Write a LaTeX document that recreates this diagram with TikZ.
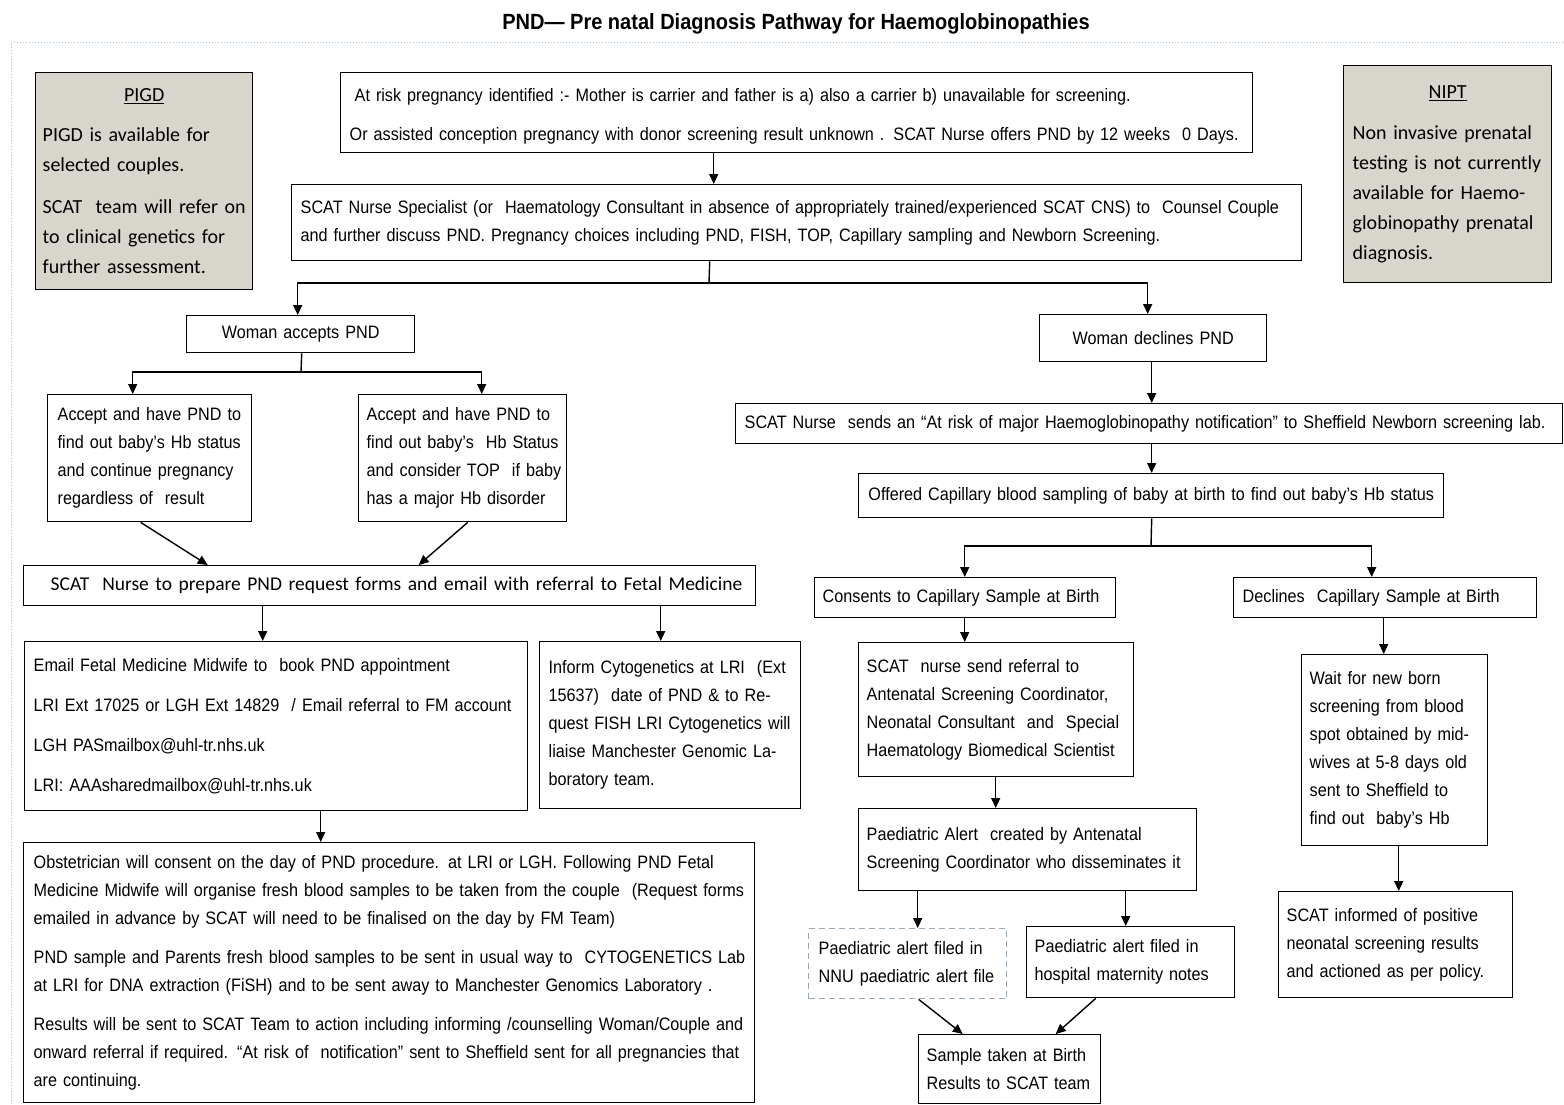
\documentclass[tikz,border=0pt]{standalone}
\usepackage{fontspec}
\setmainfont{Liberation Sans}[FakeStretch=0.9]
\newfontfamily\calibrifont{Carlito}
\newfontfamily\titlefont{Liberation Sans}[FakeStretch=0.91]
\usetikzlibrary{arrows.meta}
\definecolor{greybox}{HTML}{D8D5CC}
\definecolor{dotblue}{HTML}{9DC3E6}
\definecolor{dashgrey}{HTML}{9AA9B8}
\pgfkeys{/tikz/pad/.initial=9pt,/tikz/rpad/.initial=0pt plus 1fil,/tikz/pfill/.initial=0pt plus 1fil}
\newcommand\flowbox[7][]{%
  \pgfmathsetmacro\fbw{#5-#3}\pgfmathsetmacro\fbh{#6-#4}%
  \node[box,#1,minimum width=\fbw pt,minimum height=\fbh pt,text width=\fbw pt] (#2) at (#3,#4) {#7};}
\newcommand\ctitle[1]{\makebox[\dimexpr\hsize-2\leftskip\relax][c]{\underline{#1}}}
\begin{document}
\begin{tikzpicture}[x=1pt,y=-1pt,
  box/.style={draw, line width=1.4pt, anchor=north west, inner xsep=0pt, inner ysep=0pt, align=left,
    execute at begin node={\leftskip=\pgfkeysvalueof{/tikz/pad}\relax\rightskip=\pgfkeysvalueof{/tikz/rpad}\relax\parfillskip=\pgfkeysvalueof{/tikz/pfill}\relax},
    font=\fontsize{18}{28}\selectfont},
  cbox/.style={pad=0pt plus 1fil, rpad=0pt plus 1fil, pfill=0pt},
  grey/.style={fill=greybox, font=\calibrifont\fontsize{20}{30}\selectfont},
  arr/.style={line width=1.4pt, -{Triangle[length=10pt,width=9pt]}},
  ln/.style={line width=1.4pt}]
\useasboundingbox (0,0) rectangle (1564,1104);
% frame
\draw[dotblue, dotted, line width=1pt] (11,1104) -- (11,42) -- (1564,42);
% title
\node[font=\titlefont\bfseries\fontsize{22}{26}\selectfont] (title) at (796,24) {PND— Pre natal Diagnosis Pathway for Haemoglobinopathies};
% side notes
\flowbox[grey,pad=7pt]{pigd}{35}{72}{252}{289}{\ctitle{PIGD}\\[10pt]PIGD is available for\\selected couples.\\[12pt]SCAT\ \ team will refer on\\to clinical genetics for\\further assessment.}
\flowbox[grey,pad=9pt]{nipt}{1343}{65}{1551}{282}{\ctitle{NIPT}\\[11pt]Non invasive prenatal\\testing is not currently\\available for Haemo-\\globinopathy prenatal\\diagnosis.}
% main flow
\flowbox[pad=9pt]{topbox}{340}{72}{1252}{152}{\rule{0pt}{20pt}\hspace{5pt}At risk pregnancy identified :- Mother is carrier and father is a) also a carrier b) unavailable for screening.\\[11pt]Or assisted conception pregnancy with donor screening result unknown . SCAT Nurse offers PND by 12 weeks\ \ 0 Days.}
\flowbox[pad=9pt]{counsel}{291}{184}{1301}{260}{SCAT Nurse Specialist (or\ \ Haematology Consultant in absence of appropriately trained/experienced SCAT CNS) to\ \ Counsel Couple\\and further discuss PND. Pregnancy choices including PND, FISH, TOP, Capillary sampling and Newborn Screening.}
\flowbox[cbox]{accepts}{186}{315}{414}{352}{Woman accepts PND}
\flowbox[cbox]{declines}{1039}{314}{1266}{361}{Woman declines PND}
\flowbox[pad=10pt]{a1}{47}{394}{251}{521}{Accept and have PND to\\find out baby's Hb status\\and continue pregnancy\\regardless of\ \ result}
\flowbox[pad=8pt]{a2}{358}{394}{566}{521}{Accept and have PND to\\find out baby's\ \ Hb Status\\and consider TOP\ \ if baby\\has a major Hb disorder}
\flowbox[pad=27pt,font=\calibrifont\fontsize{19.5}{28}\selectfont]{prep}{23}{565}{755}{605}{SCAT\ \ Nurse to prepare PND request forms and email with referral to Fetal Medicine}
\flowbox[pad=9pt]{email}{24}{641}{527}{810}{Email Fetal Medicine Midwife to\ \ book PND appointment\\[12pt]LRI Ext 17025 or LGH Ext 14829\ \ / Email referral to FM account\\[12pt]LGH PASmailbox@uhl-tr.nhs.uk\\[12pt]LRI: AAAsharedmailbox@uhl-tr.nhs.uk}
\flowbox[pad=9pt]{inform}{539}{641}{800}{808}{Inform Cytogenetics at LRI\ \ (Ext\\15637)\ \ date of PND \& to Re-\\quest FISH LRI Cytogenetics will\\liaise Manchester Genomic La-\\boratory team.}
\flowbox[pad=10pt]{obst}{23}{842}{754}{1102}{Obstetrician will consent on the day of PND procedure. at LRI or LGH. Following PND Fetal\\Medicine Midwife will organise fresh blood samples to be taken from the couple\ \ (Request forms\\emailed in advance by SCAT will need to be finalised on the day by FM Team)\\[11pt]PND sample and Parents fresh blood samples to be sent in usual way to\ \ CYTOGENETICS Lab\\at LRI for DNA extraction (FiSH) and to be sent away to Manchester Genomics Laboratory .\\[11pt]Results will be sent to SCAT Team to action including informing /counselling Woman/Couple and\\onward referral if required. “At risk of\ \ notification” sent to Sheffield sent for all pregnancies that\\are continuing.}
% right branch
\flowbox[pad=9pt]{sends}{735}{403}{1562}{443}{SCAT Nurse\ \ sends an “At risk of major Haemoglobinopathy notification” to Sheffield Newborn screening lab.}
\flowbox[cbox]{offered}{858}{473}{1443}{517}{Offered Capillary blood sampling of baby at birth to find out baby's Hb status}
\flowbox[pad=8pt]{consents}{814}{577}{1115}{617}{Consents to Capillary Sample at Birth}
\flowbox[pad=9pt]{declcap}{1233}{577}{1536}{617}{Declines\ \ Capillary Sample at Birth}
\flowbox[pad=8pt]{referral}{858}{642}{1133}{776}{SCAT\ \ nurse send referral to\\Antenatal Screening Coordinator,\\Neonatal Consultant\ \ and\ \ Special\\Haematology Biomedical Scientist}
\flowbox[pad=8pt]{alert}{858}{808}{1196}{890}{Paediatric Alert\ \ created by Antenatal\\Screening Coordinator who disseminates it}
\flowbox[pad=10pt,draw=dashgrey,dashed,dash pattern=on 6pt off 4pt]{nnu}{808}{928}{1006}{998}{Paediatric alert filed in\\NNU paediatric alert file}
\flowbox[pad=8pt]{hosp}{1026}{926}{1234}{997}{Paediatric alert filed in\\hospital maternity notes}
\flowbox[pad=8pt]{sample}{918}{1034}{1100}{1103}{Sample taken at Birth\\Results to SCAT team}
\flowbox[pad=8pt]{wait}{1301}{654}{1487}{845}{Wait for new born\\screening from blood\\spot obtained by mid-\\wives at 5-8 days old\\sent to Sheffield to\\find out\ \ baby's Hb}
\flowbox[pad=8pt]{informed}{1278}{891}{1512}{997}{SCAT informed of positive\\neonatal screening results\\and actioned as per policy.}
% connectors
\draw[arr] ([xshift=-83pt]topbox.south) -- ([xshift=-83pt]counsel.north);
\coordinate (s1) at (709,283);
\draw[ln] ([xshift=-87pt]counsel.south) -- (s1);
\draw[arr] (s1) -| ([xshift=-3pt]accepts.north);
\draw[arr] (s1) -| ([xshift=-5.5pt]declines.north);
\coordinate (s2) at (301,372);
\draw[ln] ([xshift=1pt]accepts.south) -- (s2);
\draw[arr] (s2) -| ([xshift=-17pt]a1.north);
\draw[arr] (s2) -| ([xshift=19pt]a2.north);
\draw[arr] ([xshift=-9pt]a1.south) -- ([xshift=-182pt]prep.north);
\draw[arr] ([xshift=5pt]a2.south) -- ([xshift=29pt]prep.north);
\draw[arr] ([xshift=-127pt]prep.south) -- ([xshift=-13.5pt]email.north);
\draw[arr] ([xshift=271pt]prep.south) -- ([xshift=-9.5pt]inform.north);
\draw[arr] ([xshift=44.5pt]email.south) -- ([xshift=-68.5pt]obst.north);
\draw[arr] ([xshift=-1.5pt]declines.south) -- ([xshift=2.5pt]sends.north);
\draw[arr] ([xshift=2.5pt]sends.south) -- ([xshift=0.5pt]offered.north);
\coordinate (s3) at (1151,546);
\draw[ln] ([xshift=0.5pt]offered.south) -- (s3);
\draw[arr] (s3) -| ([xshift=-0.5pt]consents.north);
\draw[arr] (s3) -| ([xshift=-13.5pt]declcap.north);
\draw[arr] ([xshift=-0.5pt]consents.south) -- ([xshift=-31.5pt]referral.north);
\draw[arr] ([xshift=-0.5pt]referral.south) -- ([xshift=-32pt]alert.north);
\draw[arr] ([xshift=-110pt]alert.south) -- ([xshift=10pt]nnu.north);
\draw[arr] ([xshift=98pt]alert.south) -- ([xshift=-5pt]hosp.north);
\draw[arr] ([xshift=11pt]nnu.south) -- ([xshift=-47pt]sample.north);
\draw[arr] ([xshift=-35pt]hosp.south) -- ([xshift=46pt]sample.north);
\draw[arr] ([xshift=-1.5pt]declcap.south) -- ([xshift=-11pt]wait.north);
\draw[arr] ([xshift=4pt]wait.south) -- ([xshift=3pt]informed.north);
\end{tikzpicture}
\end{document}
